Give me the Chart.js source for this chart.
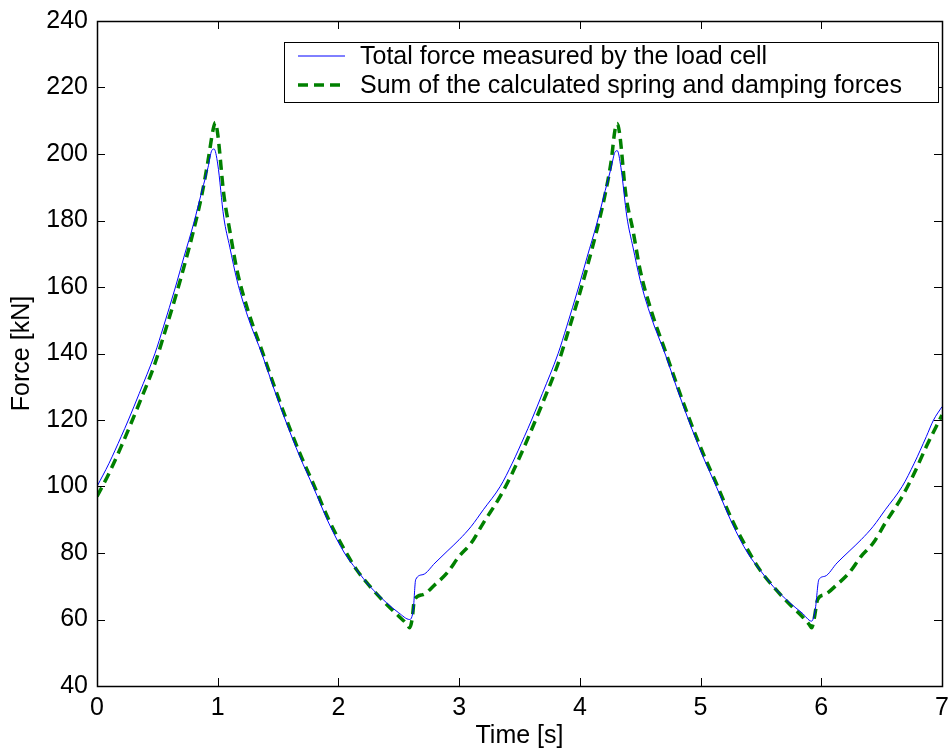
<!DOCTYPE html>
<html>
<head>
<meta charset="utf-8">
<script src="https://cdn.jsdelivr.net/npm/chart.js@4.4.1/dist/chart.umd.min.js"></script>
<style>
    html, body { margin: 0; padding: 0; background: #fff; }
    #wrap { width: 948px; height: 751px; position: relative; }
</style>
</head>
<body>
<div id="wrap"><canvas id="force-chart"></canvas></div>
<script>
// measured force (load cell)
const measuredTime = [
    0.00, 0.10, 0.20, 0.26, 0.35, 0.48, 0.55, 0.65, 0.72, 0.80, 0.87, 0.92, 0.95, 0.97,
    1.00, 1.05, 1.10, 1.16, 1.25, 1.37, 1.46, 1.56, 1.68, 1.79, 1.92, 2.05, 2.15, 2.26,
    2.40, 2.50, 2.59, 2.62, 2.64, 2.70, 2.80, 2.90, 3.00, 3.10, 3.20, 3.34, 3.44, 3.54,
    3.60, 3.69, 3.82, 3.89, 3.99, 4.06, 4.14, 4.21, 4.26, 4.29, 4.31, 4.34, 4.39, 4.44,
    4.50, 4.59, 4.71, 4.80, 4.90, 5.02, 5.13, 5.26, 5.39, 5.49, 5.60, 5.74, 5.84, 5.92,
    5.95, 5.98, 6.03, 6.13, 6.23, 6.33, 6.43, 6.53, 6.67, 6.77, 6.87, 6.93, 7.00
];
const measuredForce = [
    100, 107, 115, 120, 128, 140, 148, 160, 169, 179, 189, 196, 201, 201.5,
    197, 181, 172, 162, 151, 139.5, 130, 120, 109, 100, 89, 80, 75, 70,
    65, 62, 60, 63, 72, 73.5, 77, 80.5, 84, 88, 93, 100, 107, 115,
    120, 128, 140, 148, 160, 169, 179, 189, 196, 200.5, 201, 196, 181, 172,
    162, 151, 139.5, 130, 120, 109, 100, 89, 80, 75, 70, 65, 62, 59.5,
    63, 72, 73, 77, 80.5, 84, 88, 93, 100, 107, 115, 120, 124
];

// calculated spring + damping force
const calcTime = [
    0.00, 0.10, 0.20, 0.35, 0.48, 0.55, 0.65, 0.72, 0.80, 0.87, 0.92, 0.96, 0.98,
    1.00, 1.05, 1.10, 1.16, 1.25, 1.37, 1.46, 1.56, 1.68, 1.79, 1.92, 2.05, 2.15, 2.26,
    2.40, 2.50, 2.57, 2.59, 2.61, 2.63, 2.70, 2.80, 2.90, 3.00, 3.10, 3.20, 3.34, 3.44,
    3.54, 3.69, 3.82, 3.89, 3.99, 4.06, 4.14, 4.21, 4.26, 4.29, 4.31,
    4.33, 4.38, 4.44, 4.50, 4.59, 4.71, 4.80, 4.90, 5.02, 5.13, 5.26, 5.39, 5.49, 5.60,
    5.74, 5.84, 5.90, 5.92, 5.94, 5.97, 6.03, 6.13, 6.23, 6.33, 6.43, 6.53, 6.67, 6.77,
    6.87, 7.00
];
const calcForce = [
    97, 104, 112, 125, 137, 145, 157, 166, 177, 188, 198, 207, 209.5,
    206, 188, 177, 165, 153, 140.5, 131, 121, 110, 101, 90, 81, 75, 70,
    64.5, 61, 58.5, 57.5, 60, 66, 67.5, 70.5, 74, 79, 83, 89, 97, 104,
    112, 125, 137, 145, 157, 166, 177, 188, 198, 207, 209.2,
    206, 188, 177, 165, 153, 140.5, 131, 121, 110, 101, 90, 81, 75, 70,
    64.5, 61, 58.5, 57.5, 60, 66, 67.5, 70.5, 74, 79, 83, 89, 97, 104,
    112, 121.5
];

const xTicks = [0, 1, 2, 3, 4, 5, 6, 7];
const yTicks = [40, 60, 80, 100, 120, 140, 160, 180, 200, 220, 240];
const seriesLabels = [
    'Total force measured by the load cell',
    'Sum of the calculated spring and damping forces'
];

const FONT = 'Arial, "Liberation Sans", Helvetica, sans-serif';
const FONT_SIZE = 25;

function toPoints(xs, ys) {
    return xs.map((x, i) => ({ x: x, y: ys[i] }));
}

// box around the axes with inward ticks on all four sides
const boxTicks = {
    id: 'boxTicks',
    afterDatasetsDraw(chart) {
        const ctx = chart.ctx;
        const a = chart.chartArea;
        const xs = chart.scales.x;
        const ys = chart.scales.y;
        const len = 8;
        ctx.save();
        ctx.strokeStyle = '#000';
        ctx.lineWidth = 1;
        ctx.beginPath();
        xTicks.forEach(v => {
            const px = Math.round(xs.getPixelForValue(v)) + 0.5;
            ctx.moveTo(px, a.bottom); ctx.lineTo(px, a.bottom - len);
            ctx.moveTo(px, a.top); ctx.lineTo(px, a.top + len);
        });
        yTicks.forEach(v => {
            const py = Math.round(ys.getPixelForValue(v)) + 0.5;
            ctx.moveTo(a.left, py); ctx.lineTo(a.left + len, py);
            ctx.moveTo(a.right, py); ctx.lineTo(a.right - len, py);
        });
        ctx.stroke();
        ctx.lineWidth = 1.5;
        ctx.strokeRect(Math.round(a.left) + 0.5, Math.round(a.top) + 0.5,
            Math.round(a.right - a.left), Math.round(a.bottom - a.top));
        ctx.restore();
    }
};

// MATLAB style legend box in the upper right
const boxLegend = {
    id: 'boxLegend',
    afterDraw(chart) {
        const ctx = chart.ctx;
        const a = chart.chartArea;
        const left = 284, top = 42, right = a.right - 4, bottom = 102;
        ctx.save();
        ctx.fillStyle = '#fff';
        ctx.fillRect(left, top, right - left, bottom - top);
        ctx.strokeStyle = '#000';
        ctx.lineWidth = 1;
        ctx.strokeRect(left + 0.5, top + 0.5, right - left, bottom - top);
        ctx.font = FONT_SIZE + 'px ' + FONT;
        ctx.textBaseline = 'middle';
        ctx.fillStyle = '#000';
        chart.data.datasets.forEach((ds, i) => {
            const y = top + 14 + i * 29;
            ctx.beginPath();
            ctx.strokeStyle = ds.borderColor;
            ctx.lineWidth = ds.borderWidth;
            ctx.setLineDash(ds.borderDash || []);
            ctx.moveTo(298, y);
            ctx.lineTo(345, y);
            ctx.stroke();
            ctx.setLineDash([]);
            ctx.fillText(ds.label, 360, y + 1);
        });
        ctx.restore();
    }
};

new Chart(document.getElementById('force-chart'), {
    type: 'line',
    data: {
        datasets: [
            {
                label: seriesLabels[0],
                data: toPoints(measuredTime, measuredForce),
                borderColor: '#0000ff',
                borderWidth: 1,
                pointRadius: 0,
                cubicInterpolationMode: 'monotone'
            },
            {
                label: seriesLabels[1],
                data: toPoints(calcTime, calcForce),
                borderColor: '#008000',
                borderWidth: 3.5,
                borderDash: [10, 6],
                pointRadius: 0,
                cubicInterpolationMode: 'monotone'
            }
        ]
    },
    options: {
        responsive: true,
        maintainAspectRatio: false,
        animation: false,
        layout: { padding: { left: 0, top: 21, right: 6, bottom: 0 } },
        plugins: {
            legend: { display: false },
            tooltip: { enabled: false }
        },
        scales: {
            x: {
                type: 'linear',
                min: 0,
                max: 7,
                afterBuildTicks: scale => { scale.ticks = xTicks.map(v => ({ value: v })); },
                afterFit: scale => {
                    scale.height = 65;
                    scale.paddingLeft = 0;
                    scale.paddingRight = 0;
                },
                grid: { display: false, drawTicks: false },
                border: { display: false },
                ticks: { color: '#000', font: { family: FONT, size: FONT_SIZE }, padding: 7, maxRotation: 0 },
                title: { display: true, text: 'Time [s]', color: '#000', font: { family: FONT, size: FONT_SIZE }, padding: { top: 3, bottom: 0 } }
            },
            y: {
                type: 'linear',
                min: 40,
                max: 240,
                afterBuildTicks: scale => { scale.ticks = yTicks.map(v => ({ value: v })); },
                afterFit: scale => {
                    scale.width = 97;
                    scale.paddingTop = 0;
                    scale.paddingBottom = 0;
                },
                grid: { display: false, drawTicks: false },
                border: { display: false },
                ticks: { color: '#000', font: { family: FONT, size: FONT_SIZE }, padding: 9 },
                title: { display: true, text: 'Force [kN]', color: '#000', font: { family: FONT, size: FONT_SIZE }, padding: { top: 7, bottom: 0 } }
            }
        }
    },
    plugins: [boxTicks, boxLegend]
});
</script>
</body>
</html>
